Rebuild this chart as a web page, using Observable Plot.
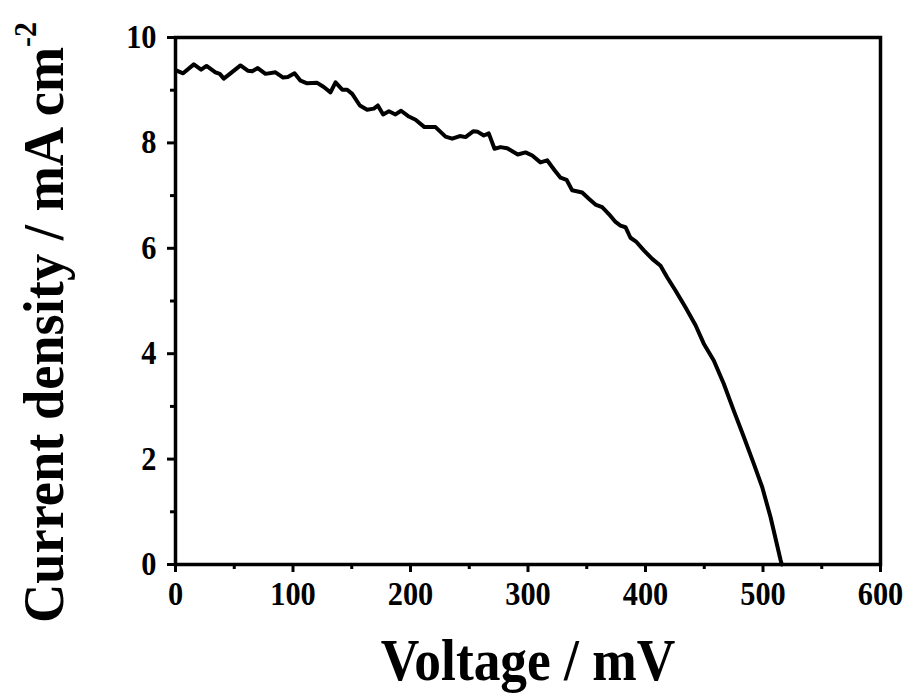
<!DOCTYPE html>
<html>
<head>
<meta charset="utf-8">
<script src="https://cdn.jsdelivr.net/npm/d3@7"></script>
<script src="https://cdn.jsdelivr.net/npm/@observablehq/plot@0.6"></script>
<style>
  html, body { margin: 0; padding: 0; background: #fff; }
  #chart { width: 911px; height: 695px; }
</style>
</head>
<body>
<div id="chart"></div>
<script>
const voltage = [1, 6.5, 15.6, 21.8, 26.4, 34, 37.7, 41.1, 46.8, 55.3, 61.5, 65.3, 70, 76.6, 85.1, 91.6, 95.6, 101.3, 106.4, 112, 120.6, 126.2, 131.9, 136.2, 141.9, 146.1, 150.4, 156.9, 163.1, 168.8, 172.2, 176.7, 181.6, 187.2, 192, 198.6, 204.3, 211.9, 221.3, 229.8, 235.5, 242, 246.8, 253.3, 257.3, 262.4, 266.6, 271.5, 276.6, 282.3, 291.3, 297.9, 303.6, 310.6, 316.3, 322.6, 327.7, 332.8, 337.6, 346.1, 351.8, 357.4, 363.1, 368.8, 374.5, 378.7, 383, 387.2, 392.3, 398.6, 405.7, 412.8, 418.4, 425.5, 434, 442.6, 449.6, 458.1, 466.6, 475.1, 483.7, 492.2, 499.3, 506.4, 514.9, 516];
const current = [9.37, 9.32, 9.49, 9.39, 9.46, 9.34, 9.31, 9.22, 9.32, 9.47, 9.37, 9.36, 9.42, 9.31, 9.34, 9.24, 9.25, 9.32, 9.18, 9.13, 9.14, 9.06, 8.96, 9.15, 9.01, 9.01, 8.93, 8.71, 8.63, 8.65, 8.71, 8.54, 8.60, 8.54, 8.61, 8.50, 8.44, 8.30, 8.30, 8.12, 8.08, 8.13, 8.11, 8.22, 8.21, 8.14, 8.18, 7.89, 7.92, 7.90, 7.78, 7.82, 7.76, 7.63, 7.67, 7.48, 7.34, 7.30, 7.10, 7.06, 6.94, 6.83, 6.78, 6.65, 6.50, 6.43, 6.40, 6.20, 6.12, 5.96, 5.80, 5.67, 5.45, 5.20, 4.88, 4.54, 4.19, 3.87, 3.43, 2.92, 2.42, 1.91, 1.47, 0.90, 0.09, 0];

const xMajorTicks = [0, 100, 200, 300, 400, 500, 600];
const xMinorTicks = [50, 150, 250, 350, 450, 550];
const yMajorTicks = [0, 2, 4, 6, 8, 10];
const yMinorTicks = [1, 3, 5, 7, 9];

const xLabel = "Voltage / mV";
const yLabel = "Current density / mA cm";
const yLabelSup = "-2";

const data = voltage.map((v, i) => ({v, j: current[i]}));

const font = "'Liberation Serif', 'Times New Roman', serif";

const plot = Plot.plot({
  width: 911,
  height: 695,
  marginLeft: 175,
  marginRight: 31,
  marginTop: 37,
  marginBottom: 131,
  style: {fontFamily: font, fontWeight: "bold", fontSize: "33px", color: "#000", background: "#fff"},
  x: {domain: [0, 600]},
  y: {domain: [0, 10]},
  marks: [
    Plot.axisX({ticks: xMinorTicks, tickSize: 5, strokeWidth: 3, label: null, text: null}),
    Plot.axisX({ticks: xMajorTicks, tickSize: 8, tickPadding: 9, strokeWidth: 3, label: null, fontSize: 33, fontWeight: "bold"}),
    Plot.axisY({ticks: yMinorTicks, tickSize: 5, strokeWidth: 3, label: null, text: null}),
    Plot.axisY({ticks: yMajorTicks, tickSize: 8, tickPadding: 11, strokeWidth: 3, label: null, fontSize: 33, fontWeight: "bold"}),
    Plot.line(data, {x: "v", y: "j", stroke: "#000", strokeWidth: 4, strokeLinejoin: "round"}),
    Plot.frame({stroke: "#000", strokeWidth: 3.5})
  ]
});

const svg = d3.select(plot);
// slightly condensed tick labels
svg.selectAll('g[aria-label="x-axis tick label"] text, g[aria-label="y-axis tick label"] text').each(function() {
  const t = d3.select(this);
  const tr = t.attr("transform") || "";
  t.attr("transform", tr + " scale(0.92,1)");
});

svg.append("text")
  .attr("transform", "translate(528,680) scale(0.89,1)")
  .attr("text-anchor", "middle")
  .attr("font-family", font)
  .attr("font-weight", "bold")
  .attr("font-size", 60)
  .attr("fill", "#000")
  .text(xLabel);

const yl = svg.append("text")
  .attr("transform", "translate(63,623) scale(1.05,1) rotate(-90)")
  .attr("text-anchor", "start")
  .attr("font-family", font)
  .attr("font-weight", "bold")
  .attr("font-size", 54.4)
  .attr("fill", "#000");
yl.append("tspan").text(yLabel);
yl.append("tspan").attr("font-size", 30).attr("dy", -26).text(yLabelSup);

document.getElementById("chart").appendChild(plot);
</script>
</body>
</html>
